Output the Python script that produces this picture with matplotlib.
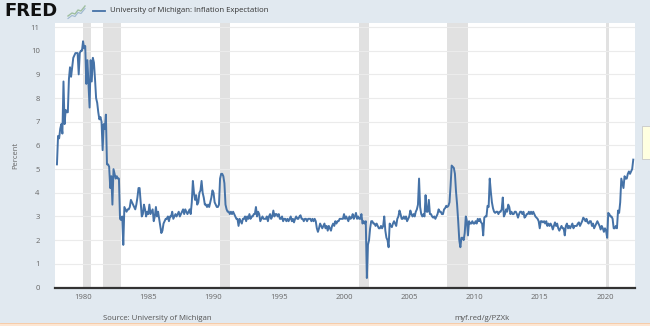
import numpy as np
import pandas as pd
import matplotlib
matplotlib.use("Agg")
import matplotlib.pyplot as plt
import matplotlib.patches as patches
from matplotlib.lines import Line2D

# monthly values, Jan 1978 onwards (percent)
start = "1978-01"
values = [
    5.2, 6.4, 6.3, 6.7, 6.9, 6.5, 8.7, 6.9, 7.5, 7.4, 7.4, 8.8,      # 1978
    9.3, 8.9, 9.3, 9.7, 9.8, 9.9, 9.9, 9.9, 9.0, 9.9, 10.0, 10.0,    # 1979
    10.4, 10.1, 10.2, 8.6, 9.6, 8.6, 7.6, 9.6, 8.7, 9.7, 9.5, 8.8,   # 1980
    8.0, 7.8, 7.4, 7.1, 7.2, 7.0, 5.8, 6.9, 6.7, 7.3, 5.2, 5.2,      # 1981
    5.1, 4.2, 4.7, 3.5, 5.0, 4.8, 4.6, 4.7, 4.6, 4.6, 2.9, 2.85,     # 1982
    3.0, 1.8, 3.4, 3.3, 3.2, 3.3, 3.3, 3.4, 3.7, 3.6, 3.5, 3.4,      # 1983
    3.3, 3.5, 3.8, 4.2, 4.2, 3.6, 3.0, 3.1, 3.5, 3.3, 3.0, 3.2,      # 1984
    3.1, 3.5, 3.1, 3.2, 3.3, 2.8, 3.0, 3.4, 3.0, 3.2, 2.9, 2.6,      # 1985
    2.3, 2.4, 2.7, 2.8, 2.9, 2.9, 3.0, 2.8, 3.0, 3.0, 3.2, 2.9,      # 1986
    3.0, 3.1, 3.0, 3.1, 3.2, 3.0, 3.1, 3.2, 3.3, 3.1, 3.3, 3.2,      # 1987
    3.1, 3.2, 3.3, 3.1, 3.6, 4.5, 4.0, 3.7, 3.9, 3.5, 3.6, 4.0,      # 1988
    4.1, 4.5, 4.0, 3.8, 3.5, 3.5, 3.4, 3.5, 3.4, 3.6, 3.8, 4.1,      # 1989
    4.0, 3.6, 3.5, 3.4, 3.4, 3.5, 4.6, 4.8, 4.8, 4.7, 4.4, 3.5,      # 1990
    3.3, 3.2, 3.2, 3.1, 3.2, 3.1, 3.2, 3.1, 3.0, 2.9, 2.9, 2.6,      # 1991
    2.9, 2.8, 2.7, 2.9, 2.9, 3.0, 2.8, 3.0, 2.9, 3.1, 2.9, 3.0,      # 1992
    3.0, 3.1, 3.1, 3.4, 3.0, 3.2, 3.1, 2.8, 2.9, 3.0, 2.9, 2.9,      # 1993
    2.9, 3.0, 2.8, 3.0, 3.1, 2.9, 3.0, 3.25, 3.0, 3.1, 3.1, 3.0,     # 1994
    3.1, 2.9, 2.9, 3.0, 2.8, 2.9, 2.9, 2.8, 2.9, 2.8, 2.9, 3.0,      # 1995
    2.8, 2.9, 2.75, 2.9, 3.0, 2.9, 2.9, 3.0, 3.05, 2.9, 2.9, 2.8,    # 1996
    2.9, 2.9, 2.8, 2.9, 2.9, 2.9, 2.8, 2.9, 2.8, 2.9, 2.8, 2.5,      # 1997
    2.35, 2.5, 2.7, 2.6, 2.5, 2.6, 2.7, 2.5, 2.6, 2.4, 2.6, 2.5,     # 1998
    2.4, 2.6, 2.7, 2.6, 2.8, 2.7, 2.8, 2.8, 2.9, 2.9, 2.9, 2.9,      # 1999
    3.1, 2.9, 3.0, 2.9, 2.8, 3.0, 2.9, 2.95, 3.1, 2.9, 3.0, 3.15,    # 2000
    2.9, 3.0, 2.9, 2.9, 3.1, 2.7, 2.8, 2.7, 2.8, 0.4, 1.8, 2.0,      # 2001
    2.5, 2.8, 2.8, 2.7, 2.7, 2.6, 2.7, 2.6, 2.5, 2.5, 2.6, 2.5,      # 2002
    2.6, 3.0, 2.4, 2.1, 2.0, 1.7, 2.7, 2.6, 2.55, 2.7, 2.8, 2.7,     # 2003
    2.6, 2.9, 3.0, 3.25, 3.1, 2.9, 2.9, 3.0, 2.9, 3.0, 2.8, 2.9,     # 2004
    3.0, 3.25, 3.1, 3.0, 3.1, 3.0, 3.2, 3.3, 3.5, 4.6, 3.4, 3.1,     # 2005
    3.0, 3.1, 3.0, 3.9, 3.2, 3.2, 3.7, 3.1, 3.1, 3.0, 2.95, 3.0,     # 2006
    2.9, 3.0, 3.1, 3.3, 3.2, 3.2, 3.1, 3.1, 3.3, 3.35, 3.45, 3.4,    # 2007
    3.45, 3.6, 4.3, 5.15, 5.1, 5.05, 4.8, 4.05, 3.5, 2.8, 2.0, 1.7,  # 2008
    2.1, 2.1, 2.0, 2.3, 3.0, 2.8, 2.2, 2.8, 2.7, 2.7, 2.8, 2.7,      # 2009
    2.7, 2.8, 2.7, 2.9, 2.8, 2.9, 2.75, 2.7, 2.2, 2.95, 3.0, 3.0,    # 2010
    3.45, 3.4, 4.6, 4.05, 3.6, 3.35, 3.2, 3.15, 3.2, 3.2, 3.1, 3.2,  # 2011
    3.2, 3.3, 3.8, 3.0, 3.1, 3.3, 3.2, 3.5, 3.4, 3.1, 3.2, 3.1,      # 2012
    3.1, 3.2, 3.2, 3.1, 2.95, 3.1, 3.2, 3.2, 3.1, 3.2, 2.95, 3.0,    # 2013
    3.1, 3.1, 3.2, 3.1, 3.2, 3.1, 3.2, 3.1, 3.0, 2.95, 2.9, 2.8,     # 2014
    2.5, 2.8, 2.8, 2.75, 2.8, 2.7, 2.8, 2.6, 2.7, 2.6, 2.7, 2.6,     # 2015
    2.45, 2.6, 2.75, 2.6, 2.7, 2.5, 2.4, 2.5, 2.6, 2.5, 2.5, 2.2,    # 2016
    2.6, 2.7, 2.5, 2.6, 2.5, 2.6, 2.7, 2.5, 2.6, 2.6, 2.6, 2.7,      # 2017
    2.75, 2.6, 2.7, 2.8, 2.95, 2.9, 2.8, 2.9, 2.75, 2.7, 2.8, 2.8,   # 2018
    2.6, 2.7, 2.5, 2.6, 2.7, 2.8, 2.7, 2.6, 2.45, 2.6, 2.5, 2.35,    # 2019
    2.5, 2.4, 2.1, 3.15, 3.1, 3.0, 3.0, 2.9, 2.5, 2.5, 2.6, 2.5,     # 2020
    3.25, 3.15, 3.6, 4.6, 4.4, 4.2, 4.7, 4.6, 4.6, 4.8, 4.9, 4.8,    # 2021
    4.9, 5.0, 5.4,                                                   # 2022
]

# NBER recessions (peak month, trough month)
recessions = [
    ("1980-01", "1980-07"),
    ("1981-07", "1982-11"),
    ("1990-07", "1991-03"),
    ("2001-03", "2001-11"),
    ("2007-12", "2009-06"),
    ("2020-02", "2020-04"),
]

x_ticks = [1980, 1985, 1990, 1995, 2000, 2005, 2010, 2015, 2020]
y_ticks = list(range(0, 12))

series_name = "University of Michigan: Inflation Expectation"
source_text = "Source: University of Michigan"
link_text = "myf.red/g/PZXk"

plt.rcParams['font.family'] = ['Open Sans', 'DejaVu Sans']

BG = "#e1e9f0"
LINE = "#4572a7"
TXT = "#666666"


def to_year(s):
    d = pd.Timestamp(s)
    return d.year + (d.month - 1) / 12.0


dates = pd.date_range(start, periods=len(values), freq="MS")
xs = dates.year + (dates.month - 1) / 12.0

fig = plt.figure(figsize=(6.5, 3.26), dpi=100, facecolor=BG)
W, H = 650.0, 326.0
ax = fig.add_axes([55 / W, 38.5 / H, (635 - 55) / W, (287.5 - 23) / H])
ax.set_facecolor("white")

for a, b in recessions:
    ax.axvspan(to_year(a), to_year(b) + 1 / 12.0, color="#e1e1e1", lw=0, zorder=1)

ax.plot(xs, values, color=LINE, lw=1.4, zorder=3)

ax.set_xlim(1977.85, 2022.3)
ax.set_ylim(0, 11.17)
ax.set_yticks(y_ticks)
ax.set_xticks(x_ticks)
ax.grid(axis="y", color="#ebebeb", lw=0.8, zorder=0)
ax.tick_params(axis="y", length=0, pad=11, labelsize=5.5, labelcolor=TXT)
ax.tick_params(axis="x", length=0, pad=5, labelsize=5.5, labelcolor=TXT)
for s in ["top", "right", "left"]:
    ax.spines[s].set_visible(False)
ax.spines["bottom"].set_color("#333333")
ax.spines["bottom"].set_linewidth(1.6)
ax.set_ylabel("Percent", fontsize=5.5, color=TXT, labelpad=8)

# header: logo, small icon, legend
fig.text(4 / W, 1 - 11 / H, "FRED", fontsize=13, fontweight="heavy",
         family="DejaVu Sans", color="#111111", va="center", ha="left")
icon_x = np.array([68, 72, 75, 78, 81, 85]) / W
icon_y = 1 - np.array([16, 13, 14, 10, 11, 6]) / H
fig.add_artist(Line2D(icon_x, icon_y, color="#9fbfa0", lw=1.0))
fig.add_artist(Line2D(icon_x, icon_y - 2.5 / H, color="#9db7d0", lw=0.8))
fig.add_artist(Line2D([93 / W, 105 / W], [1 - 11 / H] * 2, color=LINE, lw=1.3))
fig.text(110 / W, 1 - 11 / H, series_name, fontsize=5.6, color="#333333",
         va="center", ha="left")

# footer
fig.text(103 / W, 1 - 319 / H, source_text, fontsize=5.6, color="#555555",
         va="center", ha="left")
fig.text(454 / W, 1 - 319 / H, link_text, fontsize=5.6, color="#555555",
         va="center", ha="left")
fig.add_artist(patches.Rectangle((0, 0), 1, 3.5 / H, transform=fig.transFigure,
                                 facecolor="#fde6d2", edgecolor="none"))
fig.add_artist(Line2D([0, 1], [3.5 / H] * 2, color="#f5c8a3", lw=0.6))

# tooltip box at right edge
fig.add_artist(patches.Rectangle((642 / W, 1 - 159 / H), 10 / W, 33 / H,
                                 transform=fig.transFigure, facecolor="#ffffe0",
                                 edgecolor="#c8c8c8", lw=0.6))

fig.savefig("out.png", dpi=100, facecolor=BG)
